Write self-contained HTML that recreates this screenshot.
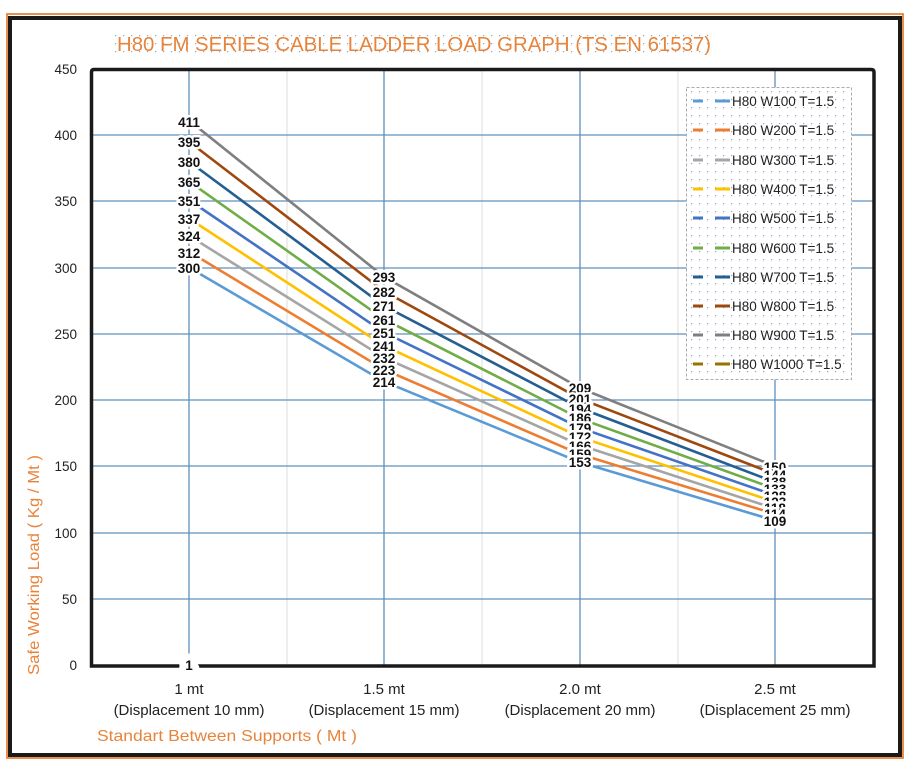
<!DOCTYPE html>
<html><head><meta charset="utf-8"><style>
html,body{margin:0;padding:0;background:#fff;}
svg{display:block;font-family:"Liberation Sans",sans-serif;}
</style></head><body>
<svg width="923" height="773" viewBox="0 0 923 773">
<defs>
<pattern id="dots" width="8" height="8" patternUnits="userSpaceOnUse"><rect x="3" y="3" width="1.2" height="1.2" fill="#8aa6c4"/></pattern>
</defs>
<rect x="7" y="14" width="896" height="744" fill="none" stroke="#e8833a" stroke-width="1.8"/>
<rect x="10" y="18" width="890" height="737" fill="none" stroke="#1a1a1a" stroke-width="4"/>
<rect x="115" y="32" width="598" height="22" fill="url(#dots)"/>
<text x="414" y="51" text-anchor="middle" font-size="20" fill="#e8833a" textLength="594" lengthAdjust="spacingAndGlyphs">H80 FM SERIES CABLE LADDER LOAD GRAPH (TS EN 61537)</text>
<g stroke="#ddd" stroke-width="1">
<line x1="287" y1="70" x2="287" y2="665"/><line x1="482" y1="70" x2="482" y2="665"/><line x1="678" y1="70" x2="678" y2="665"/>
</g>
<g stroke="#5f90bd" stroke-width="1.3">
<line x1="189" y1="70" x2="189" y2="665"/><line x1="384" y1="70" x2="384" y2="665"/><line x1="580" y1="70" x2="580" y2="665"/><line x1="775" y1="70" x2="775" y2="665"/>
<line x1="93" y1="135" x2="873" y2="135"/><line x1="93" y1="201" x2="873" y2="201"/><line x1="93" y1="268" x2="873" y2="268"/><line x1="93" y1="334" x2="873" y2="334"/><line x1="93" y1="400" x2="873" y2="400"/><line x1="93" y1="466" x2="873" y2="466"/><line x1="93" y1="533" x2="873" y2="533"/><line x1="93" y1="599" x2="873" y2="599"/>
</g>
<path d="M91.5,666 L91.5,72 Q91.5,69.5 94,69.5 L871,69.5 Q874,69.5 874,72 L874,666 Z" fill="none" stroke="#1a1a1a" stroke-width="3.5"/>
<g font-size="13.5" fill="#222" text-anchor="end">
<text x="77" y="74">450</text><text x="77" y="140">400</text><text x="77" y="206">350</text><text x="77" y="273">300</text><text x="77" y="339">250</text><text x="77" y="405">200</text><text x="77" y="471">150</text><text x="77" y="538">100</text><text x="77" y="604">50</text><text x="77" y="670">0</text>
</g>
<g fill="none" stroke-width="2.6">
<polyline stroke="#5b9bd5" points="189,267.5 384,381.5 580,462.3 775,520.6"/>
<polyline stroke="#ed7d31" points="189,251.6 384,369.5 580,454.3 775,514"/>
<polyline stroke="#a5a5a5" points="189,235.7 384,357.6 580,445.1 775,508.7"/>
<polyline stroke="#ffc000" points="189,218.5 384,345.7 580,437.1 775,502"/>
<polyline stroke="#4472c4" points="189,200 384,332.4 580,427.8 775,495.4"/>
<polyline stroke="#70ad47" points="189,181.4 384,319.2 580,418.6 775,488.8"/>
<polyline stroke="#255e91" points="189,161.5 384,305.9 580,408 775,482.2"/>
<polyline stroke="#9e480e" points="189,141.6 384,291.3 580,398.7 775,474.2"/>
<polyline stroke="#7f7f7f" points="189,120.4 384,276.8 580,388.1 775,466.3"/>
</g>
<g font-size="13.5" font-weight="bold" fill="#111" text-anchor="middle" stroke="#fff" stroke-width="5" paint-order="stroke" stroke-linejoin="round">
<text x="189" y="127">411</text><text x="189" y="147">395</text><text x="189" y="167">380</text><text x="189" y="187">365</text><text x="189" y="206">351</text><text x="189" y="224">337</text><text x="189" y="241">324</text><text x="189" y="258">312</text><text x="189" y="273">300</text>
<text x="384" y="282">293</text><text x="384" y="297">282</text><text x="384" y="311">271</text><text x="384" y="325">261</text><text x="384" y="338">251</text><text x="384" y="351">241</text><text x="384" y="363">232</text><text x="384" y="375">223</text><text x="384" y="387">214</text>
<text x="580" y="393">209</text><text x="580" y="404">201</text><text x="580" y="414">194</text><text x="580" y="423">186</text><text x="580" y="433">179</text><text x="580" y="442">172</text><text x="580" y="451">166</text><text x="580" y="459">159</text><text x="580" y="467">153</text>
<text x="775" y="472">150</text><text x="775" y="480">144</text><text x="775" y="487">138</text><text x="775" y="494">133</text><text x="775" y="501">128</text><text x="775" y="507">123</text><text x="775" y="513">118</text><text x="775" y="519">114</text><text x="775" y="526">109</text>
<text x="189" y="670" stroke-width="14">1</text>
</g>
<g font-size="15" fill="#222" text-anchor="middle">
<text x="189" y="694">1 mt</text><text x="189" y="715">(Displacement 10 mm)</text>
<text x="384" y="694">1.5 mt</text><text x="384" y="715">(Displacement 15 mm)</text>
<text x="580" y="694">2.0 mt</text><text x="580" y="715">(Displacement 20 mm)</text>
<text x="775" y="694">2.5 mt</text><text x="775" y="715">(Displacement 25 mm)</text>
</g>
<text x="97" y="741" font-size="16" fill="#e8833a" textLength="260" lengthAdjust="spacingAndGlyphs">Standart Between Supports ( Mt )</text>
<text transform="translate(39,565) rotate(-90)" text-anchor="middle" font-size="16" fill="#e8833a" textLength="220" lengthAdjust="spacingAndGlyphs">Safe Working Load ( Kg / Mt )</text>
<rect x="686.5" y="87.5" width="165" height="292" fill="#fff" stroke="#aaa" stroke-dasharray="3,2"/>
<rect x="688" y="89" width="162" height="289" fill="url(#dots)"/>
<g stroke-width="3">
<g stroke="#5b9bd5"><line x1="693" y1="101" x2="703" y2="101"/><line x1="715" y1="101" x2="730" y2="101"/></g>
<g stroke="#ed7d31"><line x1="693" y1="130" x2="703" y2="130"/><line x1="715" y1="130" x2="730" y2="130"/></g>
<g stroke="#a5a5a5"><line x1="693" y1="160" x2="703" y2="160"/><line x1="715" y1="160" x2="730" y2="160"/></g>
<g stroke="#ffc000"><line x1="693" y1="189" x2="703" y2="189"/><line x1="715" y1="189" x2="730" y2="189"/></g>
<g stroke="#4472c4"><line x1="693" y1="218" x2="703" y2="218"/><line x1="715" y1="218" x2="730" y2="218"/></g>
<g stroke="#70ad47"><line x1="693" y1="248" x2="703" y2="248"/><line x1="715" y1="248" x2="730" y2="248"/></g>
<g stroke="#255e91"><line x1="693" y1="277" x2="703" y2="277"/><line x1="715" y1="277" x2="730" y2="277"/></g>
<g stroke="#9e480e"><line x1="693" y1="306" x2="703" y2="306"/><line x1="715" y1="306" x2="730" y2="306"/></g>
<g stroke="#7f7f7f"><line x1="693" y1="335" x2="703" y2="335"/><line x1="715" y1="335" x2="730" y2="335"/></g>
<g stroke="#997300"><line x1="693" y1="364" x2="703" y2="364"/><line x1="715" y1="364" x2="730" y2="364"/></g>
</g>
<g font-size="13.5" fill="#222">
<text x="732" y="106">H80 W100 T=1.5</text><text x="732" y="135">H80 W200 T=1.5</text><text x="732" y="165">H80 W300 T=1.5</text><text x="732" y="194">H80 W400 T=1.5</text><text x="732" y="223">H80 W500 T=1.5</text><text x="732" y="253">H80 W600 T=1.5</text><text x="732" y="282">H80 W700 T=1.5</text><text x="732" y="311">H80 W800 T=1.5</text><text x="732" y="340">H80 W900 T=1.5</text><text x="732" y="369">H80 W1000 T=1.5</text>
</g>
</svg>
</body></html>
